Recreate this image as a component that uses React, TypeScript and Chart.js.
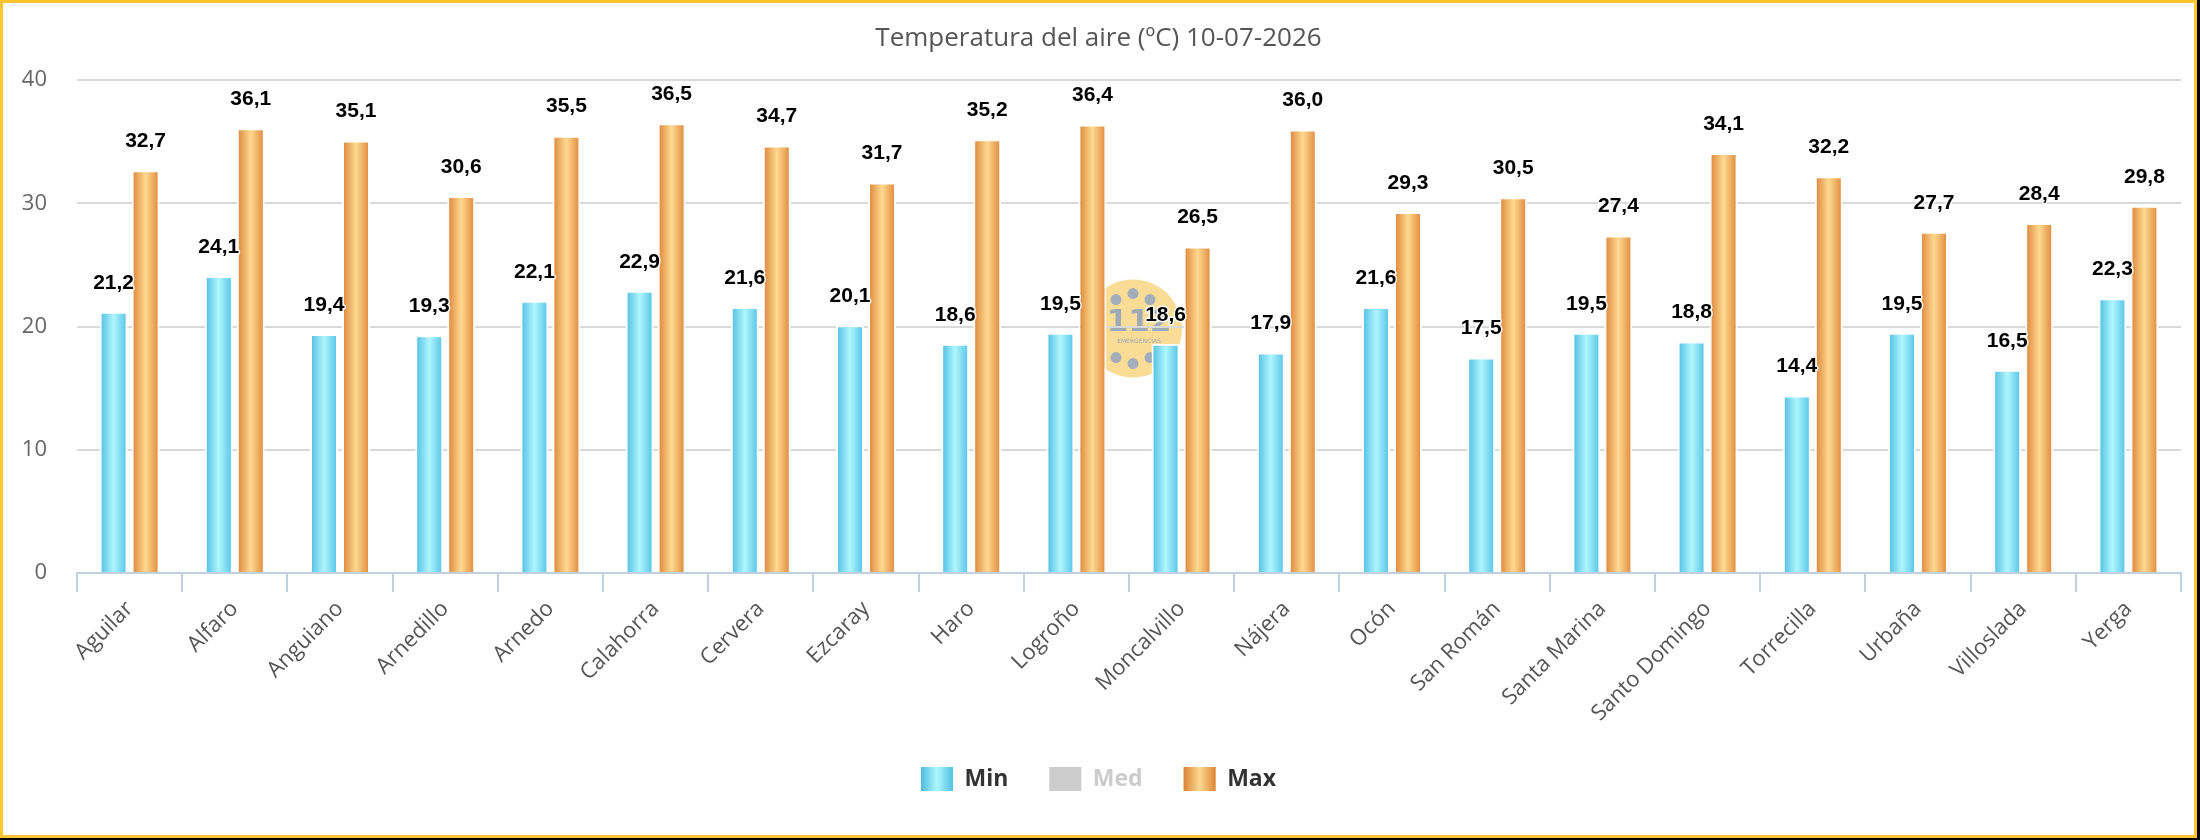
import React, { useEffect, useRef } from 'react';
import { Chart, registerables } from 'chart.js';

Chart.register(...registerables);

// Stations of the regional weather network
const STATIONS = [
  'Aguilar', 'Alfaro', 'Anguiano', 'Arnedillo', 'Arnedo', 'Calahorra', 'Cervera',
  'Ezcaray', 'Haro', 'Logroño', 'Moncalvillo', 'Nájera', 'Ocón', 'San Román',
  'Santa Marina', 'Santo Domingo', 'Torrecilla', 'Urbaña', 'Villoslada', 'Yerga',
];

// Daily air temperatures (ºC)
const MIN_TEMPS = [
  21.2, 24.1, 19.4, 19.3, 22.1, 22.9, 21.6, 20.1, 18.6, 19.5,
  18.6, 17.9, 21.6, 17.5, 19.5, 18.8, 14.4, 19.5, 16.5, 22.3,
];
const MED_TEMPS: (number | null)[] = [];
const MAX_TEMPS = [
  32.7, 36.1, 35.1, 30.6, 35.5, 36.5, 34.7, 31.7, 35.2, 36.4,
  26.5, 36.0, 29.3, 30.5, 27.4, 34.1, 32.2, 27.7, 28.4, 29.8,
];

const Y_MIN = 0;
const Y_MAX = 40;
const Y_STEP = 10;

const CHART_TITLE = 'Temperatura del aire (ºC) 10-07-2026';

// Cylinder-like horizontal gradients (edge, centre, edge)
const MIN_STOPS = ['#4dbce1', '#aef6fd', '#52c1e4'];
const MAX_STOPS = ['#da8236', '#fed98f', '#dd8639'];
const MED_COLOR = '#cccccc';

const LABEL_FONT = 'Open Sans';

const formatValue = (v: number) => v.toFixed(1).replace('.', ',');

function paintGradient(ctx: CanvasRenderingContext2D, x0: number, x1: number, stops: string[]) {
  const g = ctx.createLinearGradient(x0, 0, x1, 0);
  g.addColorStop(0, stops[0]);
  g.addColorStop(0.5, stops[1]);
  g.addColorStop(1, stops[2]);
  return g;
}

// Gives each bar its own left-to-right shading
const barShading = {
  id: 'barShading',
  afterDatasetsUpdate(chart: any) {
    const ctx = chart.ctx;
    chart.data.datasets.forEach((ds: any, i: number) => {
      const stops = ds.shadeStops;
      if (!stops) return;
      chart.getDatasetMeta(i).data.forEach((el: any) => {
        const { x, width } = el.getProps(['x', 'width'], true);
        if (!isFinite(x) || !isFinite(width)) return;
        el.options = Object.assign({}, el.options, {
          backgroundColor: paintGradient(ctx, x - width / 2, x + width / 2, stops),
        });
      });
    });
  },
};

// Faint emergency-service emblem behind the plot
const emblem = {
  id: 'emblem',
  beforeDraw(chart: any) {
    const { left, right, top, bottom } = chart.chartArea;
    const ctx = chart.ctx;
    const cx = (left + right) / 2 + 4;
    const cy = (top + bottom) / 2 + 2;
    ctx.save();
    ctx.fillStyle = '#f9dc95';
    ctx.beginPath();
    ctx.arc(cx, cy, 49, 0, Math.PI * 2);
    ctx.fill();
    ctx.fillStyle = '#a4aebb';
    const dots = [[-17, -29], [0, -35], [17, -29], [-17, 29], [0, 35], [17, 29]];
    dots.forEach(([dx, dy]) => {
      ctx.beginPath();
      ctx.arc(cx + dx, cy + dy, 5.5, 0, Math.PI * 2);
      ctx.fill();
    });
    ctx.fillStyle = '#9eaab8';
    ctx.textAlign = 'center';
    ctx.textBaseline = 'middle';
    ctx.font = 'bold 31px "DejaVu Sans"';
    ctx.fillText('112', cx + 6, cy - 6);
    ctx.font = '6px "DejaVu Sans"';
    ctx.fillText('EMERGENCIAS', cx + 6, cy + 13);
    ctx.restore();
  },
};

// Value labels above every visible bar
const valueLabels = {
  id: 'valueLabels',
  afterDatasetsDraw(chart: any) {
    const ctx = chart.ctx;
    ctx.save();
    ctx.font = 'bold 21px "Liberation Sans"';
    ctx.textAlign = 'center';
    ctx.textBaseline = 'middle';
    ctx.lineJoin = 'round';
    chart.data.datasets.forEach((ds: any, i: number) => {
      if (!chart.isDatasetVisible(i)) return;
      chart.getDatasetMeta(i).data.forEach((el: any, j: number) => {
        const v = ds.data[j];
        if (v == null) return;
        const text = formatValue(v);
        const y = el.y - 29;
        ctx.lineWidth = 3;
        ctx.strokeStyle = 'rgba(255,255,255,0.9)';
        ctx.strokeText(text, el.x, y);
        ctx.fillStyle = '#000000';
        ctx.fillText(text, el.x, y);
      });
    });
    ctx.restore();
  },
};

// Repaints the legend swatches with the bar shading
const legendSwatches = {
  id: 'legendSwatches',
  afterDraw(chart: any) {
    const legend = chart.legend;
    if (!legend || !legend.legendHitBoxes) return;
    const ctx = chart.ctx;
    const lab = legend.options.labels;
    const fontSize = lab.font.size;
    legend.legendHitBoxes.forEach((hb: any, i: number) => {
      const ds = chart.data.datasets[i];
      if (!ds.shadeStops) return;
      const y = hb.top + Math.max((fontSize - lab.boxHeight) / 2, 0);
      ctx.save();
      ctx.fillStyle = paintGradient(ctx, hb.left, hb.left + lab.boxWidth, ds.shadeStops);
      ctx.fillRect(hb.left, y, lab.boxWidth, lab.boxHeight);
      ctx.restore();
    });
  },
};

export default function App() {
  const canvasRef = useRef<HTMLCanvasElement>(null);

  useEffect(() => {
    document.body.style.margin = '0';
    document.body.style.background = '#000';
    const canvas = canvasRef.current;
    if (!canvas) return;

    const chart = new Chart(canvas, {
      type: 'bar',
      data: {
        labels: STATIONS,
        datasets: [
          {
            label: 'Min',
            data: MIN_TEMPS,
            backgroundColor: MIN_STOPS[1],
            borderColor: '#ffffff',
            borderWidth: 2,
            borderSkipped: 'start',
            categoryPercentage: 0.6084,
            barPercentage: 0.875,
            shadeStops: MIN_STOPS,
          } as any,
          {
            label: 'Med',
            data: MED_TEMPS,
            hidden: true,
            backgroundColor: MED_COLOR,
            categoryPercentage: 0.6084,
            barPercentage: 0.875,
          } as any,
          {
            label: 'Max',
            data: MAX_TEMPS,
            backgroundColor: MAX_STOPS[1],
            borderColor: '#ffffff',
            borderWidth: 2,
            borderSkipped: 'start',
            categoryPercentage: 0.6084,
            barPercentage: 0.875,
            shadeStops: MAX_STOPS,
          } as any,
        ],
      },
      options: {
        responsive: true,
        maintainAspectRatio: false,
        animation: false,
        layout: { padding: { left: 0, right: 0, top: 0, bottom: 34 } },
        plugins: {
          title: {
            display: true,
            text: CHART_TITLE,
            color: '#555555',
            font: { family: LABEL_FONT, size: 26, weight: 'normal' },
            padding: { top: 20, bottom: 26 },
          },
          legend: {
            position: 'bottom',
            onClick: () => {},
            labels: {
              boxWidth: 32,
              boxHeight: 24,
              padding: 41,
              color: '#333333',
              font: { family: LABEL_FONT, size: 23, weight: 'bold' },
              generateLabels: (c: any) =>
                c.data.datasets.map((ds: any, i: number) => {
                  const shown = c.isDatasetVisible(i);
                  return {
                    text: ds.label,
                    fillStyle: shown && ds.shadeStops ? ds.shadeStops[1] : MED_COLOR,
                    strokeStyle: 'rgba(0,0,0,0)',
                    lineWidth: 0,
                    hidden: false,
                    fontColor: shown ? '#333333' : '#cccccc',
                    datasetIndex: i,
                  };
                }),
            },
          },
          tooltip: { enabled: false },
        },
        scales: {
          x: {
            offset: true,
            grid: {
              offset: true,
              drawOnChartArea: false,
              drawTicks: true,
              tickLength: 19,
              color: '#c0d0e0',
              lineWidth: 2,
            },
            border: { display: true, color: '#c0d0e0', width: 2 },
            ticks: {
              autoSkip: false,
              minRotation: 45,
              maxRotation: 45,
              padding: 4,
              color: '#555555',
              font: { family: LABEL_FONT, size: 22 },
            },
            afterFit: (s: any) => {
              s.height = 153;
            },
          },
          y: {
            min: Y_MIN,
            max: Y_MAX,
            ticks: {
              stepSize: Y_STEP,
              padding: 30,
              color: '#666666',
              font: { family: LABEL_FONT, size: 22 },
            },
            grid: {
              drawTicks: false,
              lineWidth: 2,
              color: (ctx: any) => (ctx.tick && ctx.tick.value === Y_MIN ? 'rgba(0,0,0,0)' : '#d9d9d9'),
            },
            border: { display: false },
            afterFit: (s: any) => {
              s.width = 74;
            },
          },
          // empty right-hand gutter so the legend stays centred on the whole canvas
          gutter: {
            type: 'linear',
            position: 'right',
            display: true,
            grid: { display: false, drawTicks: false },
            border: { display: false },
            ticks: { display: false },
            afterFit: (s: any) => {
              s.width = 13;
            },
          },
        },
      } as any,
      plugins: [barShading, emblem, valueLabels, legendSwatches],
    });

    return () => chart.destroy();
  }, []);

  return (
    <div
      style={{
        width: 2197,
        height: 838,
        boxSizing: 'border-box',
        border: '3px solid #fbc531',
        background: '#ffffff',
      }}
    >
      <div style={{ position: 'relative', width: '100%', height: '100%' }}>
        <canvas ref={canvasRef} />
      </div>
    </div>
  );
}
